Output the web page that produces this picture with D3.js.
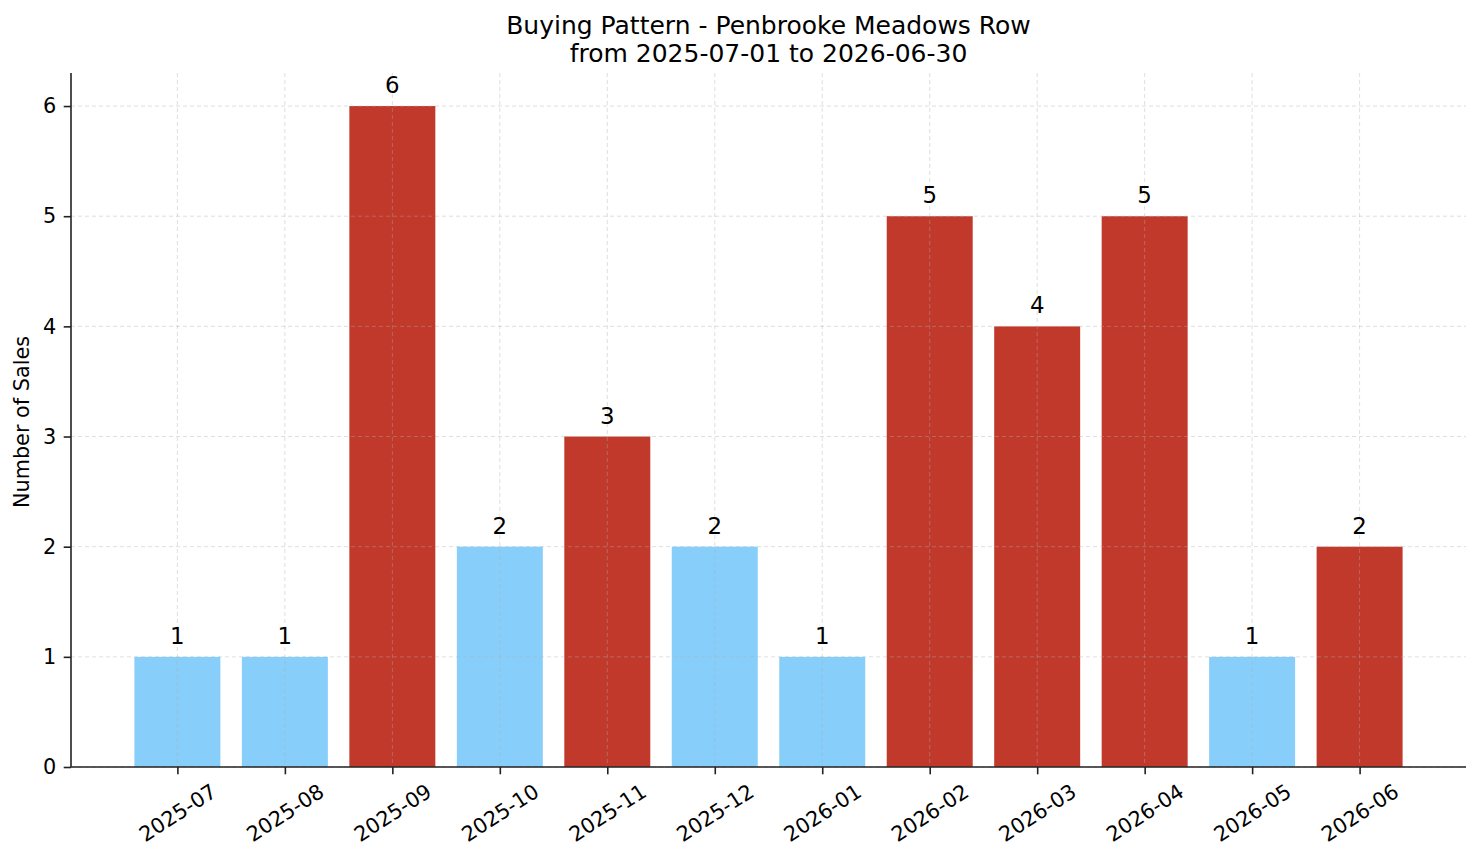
<!DOCTYPE html>
<html>
<head>
  <meta charset="utf-8">
  <title>Buying Pattern</title>
  <script src="https://d3js.org/d3.v7.min.js"></script>
  <style>
    body { margin: 0; background: #fff; }
    text { font-family: "DejaVu Sans", sans-serif; fill: #000; }
  </style>
</head>
<body>
  <script>
    // Chart data
    const months = ['2025-07', '2025-08', '2025-09', '2025-10', '2025-11', '2025-12',
                    '2026-01', '2026-02', '2026-03', '2026-04', '2026-05', '2026-06'];
    const sales = [1, 1, 6, 2, 3, 2, 1, 5, 4, 5, 1, 2];
    const highMonth = [false, false, true, false, true, false, false, true, true, true, false, true];
    const yTicks = [0, 1, 2, 3, 4, 5, 6];
    const titleLines = ['Buying Pattern - Penbrooke Meadows Row', 'from 2025-07-01 to 2026-06-30'];

    const width = 1481;
    const height = 863;
    const margin = {top: 73, right: 15, bottom: 96, left: 71};
    const plotW = width - margin.left - margin.right;
    const plotH = height - margin.top - margin.bottom;
    const fs = '20.8px';

    const svg = d3.select('body').append('svg')
      .attr('width', width)
      .attr('height', height);

    const g = svg.append('g')
      .attr('transform', `translate(${margin.left},${margin.top})`);

    // bar positions are 0..n-1, bar width 0.8, 5% margins like matplotlib
    const n = months.length;
    const pad = (n - 1 + 0.8) * 0.05;
    const x = d3.scaleLinear()
      .domain([-0.4 - pad, n - 1 + 0.4 + pad])
      .range([0, plotW]);
    const y = d3.scaleLinear()
      .domain([0, d3.max(sales) * 1.05])
      .range([plotH, 0]);

    // Bars
    g.selectAll('.bar')
      .data(sales)
      .enter().append('rect')
      .attr('class', 'bar')
      .attr('x', (d, i) => x(i - 0.4))
      .attr('width', (d, i) => x(i + 0.4) - x(i - 0.4))
      .attr('y', d => y(d))
      .attr('height', d => y(0) - y(d))
      .attr('fill', (d, i) => highMonth[i] ? '#c0392b' : '#87cefa');

    // Grid (drawn above bars)
    const grid = g.append('g').attr('class', 'grid');
    grid.selectAll('.hgrid')
      .data(yTicks)
      .enter().append('line')
      .attr('x1', 0).attr('x2', plotW)
      .attr('y1', d => y(d)).attr('y2', d => y(d));
    grid.selectAll('.vgrid')
      .data(d3.range(n))
      .enter().append('line')
      .attr('x1', d => x(d)).attr('x2', d => x(d))
      .attr('y1', 0).attr('y2', plotH);
    grid.selectAll('line')
      .attr('stroke', '#b0b0b0')
      .attr('stroke-opacity', 0.5)
      .attr('stroke-width', 0.8)
      .attr('stroke-dasharray', '4,3');

    // Value labels
    g.selectAll('.val')
      .data(sales)
      .enter().append('text')
      .attr('class', 'val')
      .attr('x', (d, i) => x(i))
      .attr('y', d => y(d) - 13)
      .attr('text-anchor', 'middle')
      .style('font-size', '22.9px')
      .text(d => d);

    // Y axis
    const yAxis = g.append('g')
      .call(d3.axisLeft(y).tickValues(yTicks).tickSize(7.3).tickPadding(7.5).tickFormat(d3.format('d')));
    // X axis
    const xAxis = g.append('g')
      .attr('transform', `translate(0,${plotH})`)
      .call(d3.axisBottom(x).tickValues(d3.range(n)).tickSize(7.3).tickFormat(i => months[i]));

    [xAxis, yAxis].forEach(ax => {
      ax.select('.domain').attr('stroke', '#222').attr('stroke-width', 1.6);
      ax.selectAll('.tick line').attr('stroke', '#222').attr('stroke-width', 1.6);
      ax.selectAll('.tick text').style('font-size', fs).style('font-family', '"DejaVu Sans", sans-serif').attr('fill', '#000');
    });
    yAxis.select('.domain').attr('d', `M0,${plotH}V0`);
    xAxis.select('.domain').attr('d', `M0,0H${plotW}`);

    // rotate x tick labels about their centre
    xAxis.selectAll('.tick text')
      .attr('y', 0)
      .attr('dy', null)
      .attr('text-anchor', 'middle')
      .attr('dominant-baseline', 'central')
      .attr('transform', 'translate(0,46) rotate(-33)');

    // Y label
    svg.append('text')
      .attr('transform', `translate(29,${margin.top + plotH / 2 + 2}) rotate(-90)`)
      .attr('text-anchor', 'middle')
      .style('font-size', fs)
      .text('Number of Sales');

    // Title
    svg.selectAll('.title')
      .data(titleLines)
      .enter().append('text')
      .attr('class', 'title')
      .attr('x', margin.left + plotW / 2)
      .attr('y', (d, i) => 34 + i * 28)
      .attr('text-anchor', 'middle')
      .style('font-size', '25px')
      .text(d => d);
  </script>
</body>
</html>
